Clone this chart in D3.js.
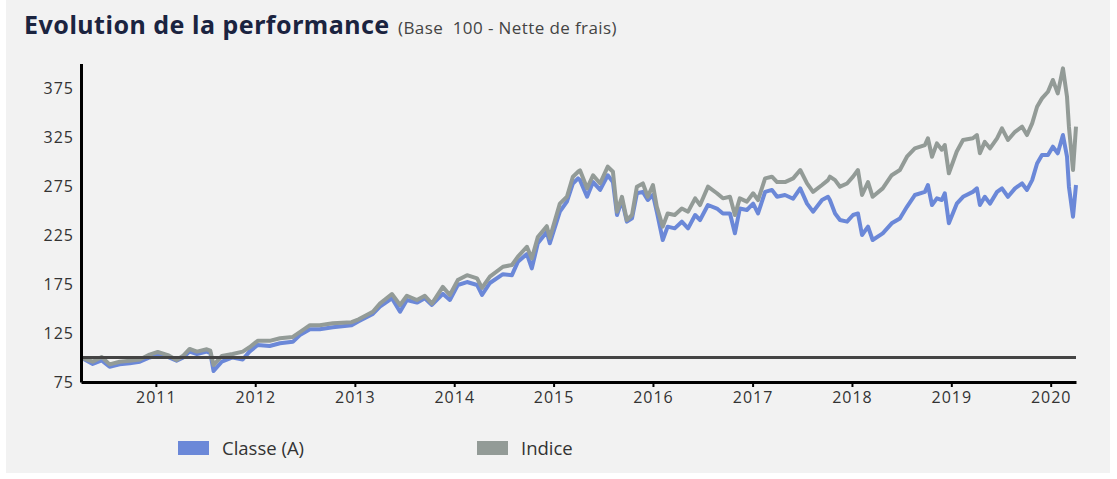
<!DOCTYPE html>
<html>
  <head>
    <meta charset="UTF-8" />
    <title>Evolution de la performance</title>
    <style>
      html, body { margin: 0; padding: 0; background: #fff; }
      svg { display: block; }
    </style>
  </head>
  <body>
    <svg width="1117" height="479"></svg>

    <script src="https://d3js.org/d3.v7.min.js"></script>
    <script>
      // dates
      const dates = [
        "2010-04-01", "2010-05-14", "2010-06-16", "2010-07-15", "2010-08-21", "2010-09-27",
        "2010-11-03", "2010-12-09", "2011-01-08", "2011-02-14", "2011-03-18", "2011-04-10",
        "2011-05-05", "2011-06-01", "2011-07-07", "2011-07-20", "2011-08-01", "2011-08-31",
        "2011-10-10", "2011-11-16", "2011-12-11", "2012-01-10", "2012-02-23", "2012-04-01",
        "2012-05-18", "2012-06-13", "2012-07-20", "2012-08-25", "2012-10-12", "2012-12-20",
        "2013-01-15", "2013-03-08", "2013-04-03", "2013-05-17", "2013-06-16", "2013-07-11",
        "2013-08-17", "2013-09-15", "2013-10-11", "2013-11-20", "2013-12-16", "2014-01-14",
        "2014-02-17", "2014-03-26", "2014-04-13", "2014-05-12", "2014-06-29", "2014-08-01",
        "2014-08-23", "2014-09-25", "2014-10-13", "2014-11-04", "2014-12-07", "2014-12-18",
        "2015-01-24", "2015-02-19", "2015-03-13", "2015-04-01", "2015-04-08", "2015-05-04",
        "2015-05-26", "2015-06-21", "2015-07-19", "2015-08-07", "2015-08-22", "2015-09-09",
        "2015-09-27", "2015-10-16", "2015-11-03", "2015-11-25", "2015-12-13", "2016-01-01",
        "2016-01-15", "2016-02-06", "2016-02-24", "2016-03-21", "2016-04-16", "2016-05-09",
        "2016-06-04", "2016-06-22", "2016-07-21", "2016-08-23", "2016-09-14", "2016-10-10",
        "2016-10-28", "2016-11-15", "2016-12-11", "2017-01-03", "2017-01-21", "2017-02-16",
        "2017-03-13", "2017-04-01", "2017-04-30", "2017-05-30", "2017-06-25", "2017-07-20",
        "2017-08-11", "2017-09-13", "2017-10-05", "2017-10-12", "2017-10-31", "2017-11-18",
        "2017-12-14", "2018-01-05", "2018-01-23", "2018-02-07", "2018-03-01", "2018-03-18",
        "2018-04-24", "2018-05-27", "2018-06-26", "2018-07-22", "2018-08-20", "2018-09-26",
        "2018-10-07", "2018-10-22", "2018-11-09", "2018-11-27", "2018-12-08", "2018-12-23",
        "2019-01-21", "2019-02-13", "2019-03-21", "2019-04-05", "2019-04-16", "2019-05-04",
        "2019-05-23", "2019-06-18", "2019-07-06", "2019-07-28", "2019-08-23", "2019-09-18",
        "2019-10-06", "2019-10-25", "2019-11-12", "2019-11-30", "2019-12-22", "2020-01-09",
        "2020-01-27", "2020-02-15", "2020-03-01", "2020-03-08", "2020-03-23", "2020-04-03"
      ];

      // Classe (A)
      const classe = [
        100, 93.4, 97, 90.6, 93, 94,
        95.7, 100, 102.5, 100.5, 96.7, 99.8,
        106, 103.6, 106, 104.5, 86.2, 95.7,
        100, 98, 106, 112.8, 111.7, 114.5,
        116, 123, 128.8, 128.8, 130.8, 133,
        137, 144.4, 152, 160.4, 146.7, 158.7,
        156, 160.4, 153.6, 165, 158.7, 174,
        177, 174, 163.8, 176, 185, 184,
        197.8, 205.6, 191, 216.5, 228, 216.5,
        248.8, 259, 277.6, 282.8, 281, 264,
        279, 271, 286, 279, 245.4, 260.7,
        238.6, 242, 267.6, 269, 260.7, 266,
        248.8, 219.9, 233.5, 231.8, 238.6, 231.8,
        245.4, 240.3, 255.6, 252, 247, 247,
        226.7, 252, 250.5, 257, 247, 269,
        271, 264, 265.8, 262, 272.6, 257,
        248.8, 260.7, 264, 260.7, 247, 240.3,
        238.6, 245.4, 247, 225, 233.5, 219.9,
        226.7, 236.9, 241.9, 253.8, 265.8, 269,
        276, 255.6, 262.4, 260.7, 267.6, 236.9,
        257, 264, 269, 272.6, 255.6, 264,
        257, 269, 272.6, 264, 272.6, 277.6,
        271, 281, 298, 306.6, 306.6, 315.1,
        308.4, 327, 304.9, 274.3, 243.7, 276
      ];

      // Indice
      const indice = [
        100, 95.7, 100.5, 93, 95.7, 96.7,
        98, 103, 105.6, 102.5, 97.4, 101.5,
        108.7, 106, 108.4, 107, 92.3, 101.5,
        103.6, 106, 110.4, 117, 117, 119.6,
        121, 126, 133, 133, 135, 136,
        139, 146.7, 155, 164.8, 153.6, 163,
        158.7, 163, 155, 172, 163.8, 179,
        184, 180.8, 171, 182.5, 192.6, 194.4,
        202.9, 213, 201, 223, 234, 222,
        257, 264, 284.5, 289.6, 291, 272.6,
        286, 277.6, 294.7, 289.6, 248.8, 264,
        240.3, 245.4, 274.3, 277.6, 264, 276,
        254, 233.5, 247, 245.4, 252, 248.8,
        262.4, 255.6, 274.3, 267.6, 262.4, 264,
        245.4, 262.4, 259, 267.6, 260.7, 282.8,
        284.5, 279, 279, 282.8, 291.3, 277.6,
        269, 276, 281, 284.5, 281, 274.3,
        277.6, 284.5, 291.3, 265.8, 279, 264,
        272.6, 286, 291.3, 304.9, 313.4, 316.8,
        323.7, 304.9, 318.5, 312, 316.8, 287.9,
        310.2, 322, 323.7, 327, 308.5, 320,
        313.4, 323.7, 333.8, 322, 330.3, 335.5,
        327, 338.9, 355.9, 364.4, 371.2, 383.2,
        369.5, 395, 366, 335.5, 291.3, 335.5
      ];

      const yTicks = [75, 125, 175, 225, 275, 325, 375];
      const baseValue = 100;
      const seriesNames = ["Classe (A)", "Indice"];
      const seriesColors = ["#6b88d8", "#939b97"];

      const parseDate = d3.timeParse("%Y-%m-%d");
      const rows = dates.map((d, i) => ({
        date: parseDate(d),
        classe: classe[i],
        indice: indice[i]
      }));

      const svg = d3.select("svg");

      // fond gris
      svg
        .append("rect")
        .attr("x", 6)
        .attr("y", 0)
        .attr("width", 1104)
        .attr("height", 473)
        .attr("fill", "#f2f2f2");

      // titre
      const title = svg
        .append("text")
        .attr("x", 24)
        .attr("y", 34)
        .attr("font-family", "Noto Sans, sans-serif")
        .attr("font-weight", 700)
        .attr("font-size", "25px")
        .attr("letter-spacing", "0.5px")
        .attr("fill", "#1b2440");
      title.append("tspan").text("Evolution de la performance");
      title
        .append("tspan")
        .attr("x", 398)
        .attr("font-family", "Open Sans, sans-serif")
        .attr("font-weight", 400)
        .attr("font-size", "17px")
        .attr("letter-spacing", "0.4px")
        .attr("fill", "#444")
        .style("white-space", "pre")
        .text("(Base  100 - Nette de frais)");

      // échelles
      const x = d3
        .scaleTime()
        .domain([parseDate("2010-04-01"), parseDate("2020-04-03")])
        .range([81, 1076]);

      const y = d3.scaleLinear().domain([75, 400]).range([382, 63.5]);

      // courbes
      const line = (key) =>
        d3
          .line()
          .x((d) => x(d.date))
          .y((d) => y(d[key]));

      svg
        .append("path")
        .datum(rows)
        .attr("d", line("classe"))
        .attr("fill", "none")
        .attr("stroke", seriesColors[0])
        .attr("stroke-width", 4)
        .attr("stroke-linejoin", "round");

      svg
        .append("path")
        .datum(rows)
        .attr("d", line("indice"))
        .attr("fill", "none")
        .attr("stroke", seriesColors[1])
        .attr("stroke-width", 4)
        .attr("stroke-linejoin", "round");

      // ligne base 100
      svg
        .append("line")
        .attr("x1", x.range()[0])
        .attr("x2", x.range()[1])
        .attr("y1", y(baseValue))
        .attr("y2", y(baseValue))
        .attr("stroke", "#444")
        .attr("stroke-width", 3);

      // axe Y
      const yAxis = svg
        .append("g")
        .attr("transform", "translate(81,0)")
        .call(d3.axisLeft(y).tickValues(yTicks).tickSize(0).tickPadding(7));

      // axe X
      const xAxis = svg
        .append("g")
        .attr("transform", "translate(0,382)")
        .call(
          d3
            .axisBottom(x)
            .ticks(d3.timeYear)
            .tickFormat(d3.timeFormat("%Y"))
            .tickSizeInner(5)
            .tickSizeOuter(0)
            .tickPadding(5)
        );

      [yAxis, xAxis].forEach((g) => {
        g.select(".domain").attr("stroke", "#000").attr("stroke-width", 3);
        g.selectAll(".tick line").attr("stroke", "#000").attr("stroke-width", 2);
        g.selectAll(".tick text")
          .attr("fill", "#333")
          .attr("font-family", "Open Sans, sans-serif")
          .attr("font-size", "16px")
          .attr("letter-spacing", "1px");
      });

      // légende
      const legendX = [178, 477];
      const legend = svg
        .selectAll(".legend")
        .data(seriesNames)
        .enter()
        .append("g")
        .attr("class", "legend")
        .attr("transform", (d, i) => `translate(${legendX[i]},441)`);

      legend
        .append("rect")
        .attr("width", 31)
        .attr("height", 14)
        .attr("fill", (d, i) => seriesColors[i]);

      legend
        .append("text")
        .attr("x", 44)
        .attr("y", 7)
        .attr("dy", "0.36em")
        .attr("font-family", "Open Sans, sans-serif")
        .attr("font-size", "18.5px")
        .attr("fill", "#333")
        .text((d) => d);
    </script>
  </body>
</html>
